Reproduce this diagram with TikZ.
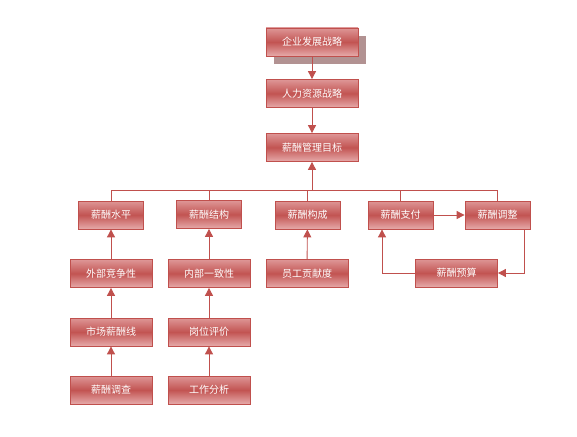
\documentclass[tikz,border=0pt]{standalone}
\usepackage{fontspec}
\setmainfont{Noto Sans CJK SC}
\usetikzlibrary{arrows.meta,shadows,calc}
\definecolor{edge}{RGB}{192,80,77}
\definecolor{boxtop}{RGB}{222,150,150}
\definecolor{boxmid}{RGB}{194,84,82}
\definecolor{boxbot}{RGB}{230,170,170}
\definecolor{shadowc}{RGB}{178,146,146}
\tikzset{
  box/.style={draw=edge, line width=0.8pt, top color=boxtop, bottom color=boxbot, middle color=boxmid,
    text=white, font=\fontsize{10}{12}\selectfont, inner sep=0pt, minimum height=28pt},
  wbig/.style={minimum width=92pt},
  wmid/.style={minimum width=82pt},
  wsml/.style={minimum width=65pt},
  conn/.style={draw=edge, line width=0.9pt},
  arr/.style={conn, -{Triangle[length=8pt,width=8pt]}},
}
\begin{document}
\begin{tikzpicture}[x=1pt,y=-1pt]
\useasboundingbox (0,0) rectangle (577,436);
\node[box,wbig,drop shadow={shadow xshift=8pt,shadow yshift=-8pt,fill=shadowc,opacity=1}] (qiye) at (312,42) {企业发展战略};
\node[box,wbig] (renli) at (312,93.5) {人力资源战略};
\node[box,wbig] (goal) at (312,147.5) {薪酬管理目标};
\node[box,wsml] (shuiping) at (111,215) {薪酬水平};
\node[box,wsml] (jiegou) at (209,214.5) {薪酬结构};
\node[box,wsml] (goucheng) at (307.5,215) {薪酬构成};
\node[box,wsml] (zhifu) at (400.5,215) {薪酬支付};
\node[box,wsml] (tiaozheng) at (497.5,215) {薪酬调整};
\node[box,wmid] (waibu) at (111,273.5) {外部竞争性};
\node[box,wmid] (neibu) at (209,273.5) {内部一致性};
\node[box,wmid] (yuangong) at (307,273.5) {员工贡献度};
\node[box,wmid] (yusuan) at (456.5,273) {薪酬预算};
\node[box,wmid] (shichang) at (111,332) {市场薪酬线};
\node[box,wmid] (gangwei) at (209,332) {岗位评价};
\node[box,wmid] (diaocha) at (111,390) {薪酬调查};
\node[box,wmid] (gongzuo) at (209,390) {工作分析};
\coordinate (bus) at (312,190);
\coordinate (loopx) at (382,0);
\coordinate (loopr) at (524,0);

\draw[arr] (qiye) -- (renli);
\draw[arr] (renli) -- (goal);
\draw[arr] (goal.south |- bus) -- (goal.south);
\draw[conn] (shuiping.north) -- (shuiping.north |- bus) -- (tiaozheng.north |- bus) -- (tiaozheng.north);
\draw[conn] (jiegou.north) -- (jiegou.north |- bus);
\draw[conn] (goucheng.north) -- (goucheng.north |- bus);
\draw[conn] (zhifu.north) -- (zhifu.north |- bus);

\draw[arr] (waibu) -- (shuiping);
\draw[arr] (shichang) -- (waibu);
\draw[arr] (diaocha) -- (shichang);
\draw[arr] (neibu) -- (jiegou);
\draw[arr] (gangwei) -- (neibu);
\draw[arr] (gongzuo) -- (gangwei);
\draw[arr] (yuangong) -- (goucheng);

\draw[arr] (zhifu) -- (tiaozheng);
\draw[arr] (loopr |- tiaozheng.south) |- (yusuan.east);
\draw[arr] (yusuan.west) -| (loopx |- zhifu.south);
\end{tikzpicture}
\end{document}
